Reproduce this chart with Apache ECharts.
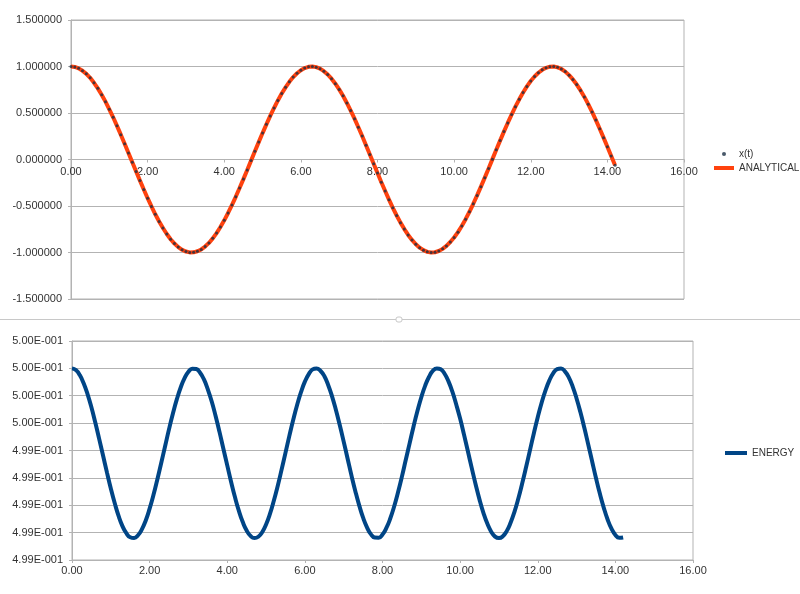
<!DOCTYPE html>
<html>
<head>
<meta charset="utf-8">
<script src="https://cdn.jsdelivr.net/npm/echarts@6/dist/echarts.min.js"></script>
<style>html,body{margin:0;padding:0;background:#fff}#c{width:800px;height:594px}</style>
</head>
<body>
<div id="c"></div>
<script>
const tValues = [
0.0,0.1,0.2,0.3,0.4,0.5,0.6,0.7,0.8,0.9,
1.0,1.1,1.2,1.3,1.4,1.5,1.6,1.7,1.8,1.9,
2.0,2.1,2.2,2.3,2.4,2.5,2.6,2.7,2.8,2.9,
3.0,3.1,3.2,3.3,3.4,3.5,3.6,3.7,3.8,3.9,
4.0,4.1,4.2,4.3,4.4,4.5,4.6,4.7,4.8,4.9,
5.0,5.1,5.2,5.3,5.4,5.5,5.6,5.7,5.8,5.9,
6.0,6.1,6.2,6.3,6.4,6.5,6.6,6.7,6.8,6.9,
7.0,7.1,7.2,7.3,7.4,7.5,7.6,7.7,7.8,7.9,
8.0,8.1,8.2,8.3,8.4,8.5,8.6,8.7,8.8,8.9,
9.0,9.1,9.2,9.3,9.4,9.5,9.6,9.7,9.8,9.9,
10.0,10.1,10.2,10.3,10.4,10.5,10.6,10.7,10.8,10.9,
11.0,11.1,11.2,11.3,11.4,11.5,11.6,11.7,11.8,11.9,
12.0,12.1,12.2,12.3,12.4,12.5,12.6,12.7,12.8,12.9,
13.0,13.1,13.2,13.3,13.4,13.5,13.6,13.7,13.8,13.9,
14.0,14.1,14.2
];
const xtValues = [
1.000,0.995,0.980,0.955,0.921,0.878,0.825,0.765,0.697,0.622,
0.540,0.454,0.362,0.267,0.170,0.071,-0.029,-0.129,-0.227,-0.323,
-0.416,-0.505,-0.589,-0.666,-0.737,-0.801,-0.857,-0.904,-0.942,-0.971,
-0.990,-0.999,-0.998,-0.987,-0.967,-0.936,-0.897,-0.848,-0.791,-0.726,
-0.654,-0.575,-0.490,-0.401,-0.307,-0.211,-0.112,-0.012,0.088,0.187,
0.284,0.378,0.469,0.554,0.635,0.709,0.776,0.835,0.886,0.927,
0.960,0.983,0.997,1.000,0.993,0.977,0.950,0.914,0.869,0.815,
0.754,0.685,0.608,0.526,0.439,0.347,0.252,0.154,0.054,-0.046,
-0.146,-0.244,-0.339,-0.432,-0.520,-0.602,-0.679,-0.748,-0.811,-0.865,
-0.911,-0.948,-0.975,-0.993,-1.000,-0.997,-0.984,-0.961,-0.929,-0.887,
-0.839,-0.781,-0.715,-0.642,-0.562,-0.476,-0.386,-0.292,-0.195,-0.096,
0.004,0.104,0.203,0.300,0.393,0.483,0.568,0.647,0.720,0.786,
0.844,0.893,0.933,0.964,0.986,0.998,1.000,0.991,0.973,0.945,
0.907,0.861,0.806,0.743,0.673,0.595,0.512,0.424,0.331,0.235,
0.137,0.037,-0.063
];
const analyticalValues = xtValues;
const energyValues = [
0.500000,0.499988,0.499951,0.499891,0.499812,0.499716,0.499604,0.499485,0.499363,0.499240,
0.499122,0.499016,0.498922,0.498848,0.498796,0.498766,0.498761,0.498781,0.498824,0.498889,
0.498975,0.499076,0.499190,0.499310,0.499433,0.499556,0.499670,0.499773,0.499860,0.499929,
0.499975,0.499998,0.499995,0.499968,0.499919,0.499846,0.499758,0.499652,0.499536,0.499413,
0.499291,0.499170,0.499058,0.498959,0.498877,0.498815,0.498776,0.498760,0.498770,0.498803,
0.498860,0.498937,0.499033,0.499141,0.499260,0.499383,0.499507,0.499625,0.499733,0.499826,
0.499903,0.499958,0.499993,0.500000,0.499983,0.499944,0.499879,0.499796,0.499696,0.499584,
0.499465,0.499342,0.499218,0.499103,0.498999,0.498909,0.498839,0.498789,0.498764,0.498763,
0.498786,0.498834,0.498903,0.498991,0.499095,0.499209,0.499332,0.499454,0.499576,0.499688,
0.499789,0.499874,0.499939,0.499983,0.500000,0.499993,0.499961,0.499905,0.499830,0.499736,
0.499633,0.499516,0.499394,0.499271,0.499152,0.499041,0.498945,0.498866,0.498807,0.498771,
0.498760,0.498773,0.498811,0.498872,0.498952,0.499049,0.499160,0.499279,0.499403,0.499526,
0.499643,0.499749,0.499839,0.499912,0.499966,0.499995,0.500000,0.499978,0.499934,0.499867,
0.499780,0.499679,0.499566,0.499445,0.499322,0.499199,0.499085,0.498983,0.498896,0.498829,
0.498783,0.498762,0.498765
];
const seriesNames = ['x(t)', 'ANALYTICAL', 'ENERGY'];

const zip = (a, b) => a.map((v, i) => [v, b[i]]);
const FONT = 'Liberation Sans';
const TXT = '#333333';
const GRIDC = '#b3b3b3';

function sci(v) {
  const s = v.toExponential(2);
  const parts = s.split('e');
  let e = parseInt(parts[1], 10);
  const sign = e < 0 ? '-' : '+';
  e = Math.abs(e);
  return parts[0] + 'E' + sign + String(e).padStart(3, '0');
}

const labelBase = { color: TXT, fontFamily: FONT, fontSize: 11 };
const tickBase = { show: true, length: 3, lineStyle: { color: GRIDC } };

const chart = echarts.init(document.getElementById('c'), null, { renderer: 'canvas' });
chart.setOption({
  backgroundColor: '#ffffff',
  animation: false,
  grid: [
    { left: 71, width: 613, top: 20, height: 279, show: true, borderColor: GRIDC, borderWidth: 1, containLabel: false },
    { left: 72, width: 621, top: 341, height: 219, show: true, borderColor: GRIDC, borderWidth: 1, containLabel: false }
  ],
  xAxis: [
    {
      type: 'value', gridIndex: 0, min: 0, max: 16, interval: 2, position: 'bottom', offset: -139.5,
      axisLine: { show: true, onZero: false, lineStyle: { color: GRIDC } },
      axisTick: tickBase, splitLine: { show: false },
      axisLabel: Object.assign({}, labelBase, { margin: 7, formatter: v => v.toFixed(2) })
    },
    {
      type: 'value', gridIndex: 1, min: 0, max: 16, interval: 2,
      axisLine: { show: true, onZero: false, lineStyle: { color: GRIDC } },
      axisTick: tickBase, splitLine: { show: false },
      axisLabel: Object.assign({}, labelBase, { margin: 5, formatter: v => v.toFixed(2) })
    }
  ],
  yAxis: [
    {
      type: 'value', gridIndex: 0, min: -1.5, max: 1.5, interval: 0.5,
      axisLine: { show: true, onZero: false, lineStyle: { color: GRIDC } },
      axisTick: tickBase,
      splitLine: { show: true, lineStyle: { color: GRIDC } },
      axisLabel: Object.assign({}, labelBase, { margin: 9, formatter: v => (Math.abs(v) < 1e-12 ? 0 : v).toFixed(6) })
    },
    {
      type: 'value', gridIndex: 1, min: 0.4986, max: 0.5002, interval: 0.0002,
      axisLine: { show: true, onZero: false, lineStyle: { color: GRIDC } },
      axisTick: tickBase,
      splitLine: { show: true, lineStyle: { color: GRIDC } },
      axisLabel: Object.assign({}, labelBase, { margin: 9, formatter: v => sci(v) })
    }
  ],
  legend: [
    {
      orient: 'vertical', left: 709, top: 144, itemWidth: 20, itemHeight: 4, itemGap: 4,
      textStyle: { color: TXT, fontFamily: FONT, fontSize: 10 },
      data: [{ name: seriesNames[0], icon: 'circle' }, { name: seriesNames[1], icon: 'rect' }]
    },
    {
      orient: 'vertical', left: 720, top: 443, itemWidth: 22, itemHeight: 4,
      textStyle: { color: TXT, fontFamily: FONT, fontSize: 10 },
      data: [{ name: seriesNames[2], icon: 'rect' }]
    }
  ],
  series: [
    {
      name: seriesNames[1], type: 'line', xAxisIndex: 0, yAxisIndex: 0,
      data: zip(tValues, analyticalValues), symbol: 'none', smooth: false,
      lineStyle: { color: '#ff420e', width: 4 }, itemStyle: { color: '#ff420e' }, z: 2
    },
    {
      name: seriesNames[0], type: 'scatter', xAxisIndex: 0, yAxisIndex: 0,
      data: zip(tValues, xtValues), symbol: 'circle', symbolSize: 3,
      itemStyle: { color: '#1c2f45' }, z: 3
    },
    {
      name: seriesNames[2], type: 'line', xAxisIndex: 1, yAxisIndex: 1,
      data: zip(tValues, energyValues), symbol: 'none', smooth: true,
      lineStyle: { color: '#004586', width: 4 }, itemStyle: { color: '#004586' }, z: 2
    }
  ],
  graphic: [
    { type: 'line', shape: { x1: 0, y1: 319.5, x2: 800, y2: 319.5 }, style: { stroke: '#c8c8c8', lineWidth: 1 } },
    { type: 'rect', shape: { x: 396, y: 317, width: 6, height: 5, r: 2 }, style: { fill: '#ffffff', stroke: '#c8c8c8', lineWidth: 1 } }
  ]
});
</script>
</body>
</html>
